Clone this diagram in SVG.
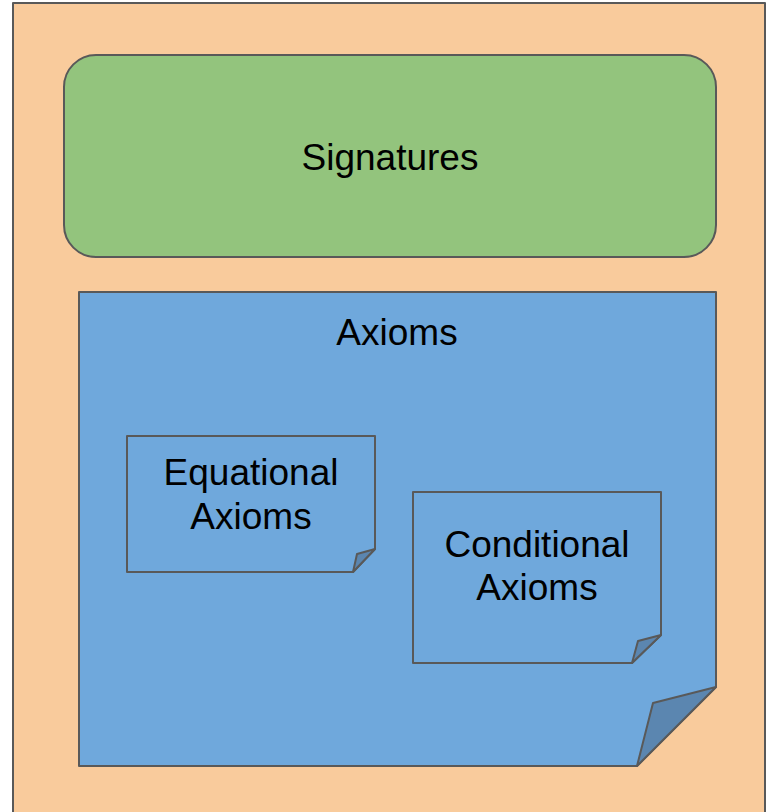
<svg xmlns="http://www.w3.org/2000/svg" width="770" height="812" viewBox="0 0 770 812">
<style>
.s{stroke:#595959;stroke-width:2;stroke-linejoin:round}
.t{font-family:"Liberation Sans",Arial,sans-serif;font-size:37px;fill:#000;text-anchor:middle}
.note{fill:#6fa8dc}
.fold{fill:#5b86b0}
</style>
<rect width="770" height="812" fill="#ffffff"/>
<g id="container">
<rect class="s" x="13" y="3" width="752" height="820" fill="#f9cb9c"/>
</g>
<g id="signatures">
<rect class="s" x="64" y="55" width="652" height="202" rx="32" ry="32" fill="#93c47d"/>
<text class="t" x="390" y="170">Signatures</text>
</g>
<g id="axioms">
<path class="s note" d="M79 292 H716 V687 L637 766 H79 Z"/>
<path class="s fold" d="M716 687 L653 703 L637 766 Z"/>
<text class="t" x="397" y="345">Axioms</text>
</g>
<g id="equational">
<path class="s note" d="M127 436 H375 V549 L353 572 H127 Z"/>
<path class="s fold" d="M375 549 L357 554 L353 572 Z"/>
<text class="t" x="251" y="485">Equational</text>
<text class="t" x="251" y="529">Axioms</text>
</g>
<g id="conditional">
<path class="s note" d="M413 492 H661 V635 L632 663 H413 Z"/>
<path class="s fold" d="M661 635 L638 641 L632 663 Z"/>
<text class="t" x="537" y="557">Conditional</text>
<text class="t" x="537" y="600">Axioms</text>
</g>
<g id="connectors"></g>
</svg>
